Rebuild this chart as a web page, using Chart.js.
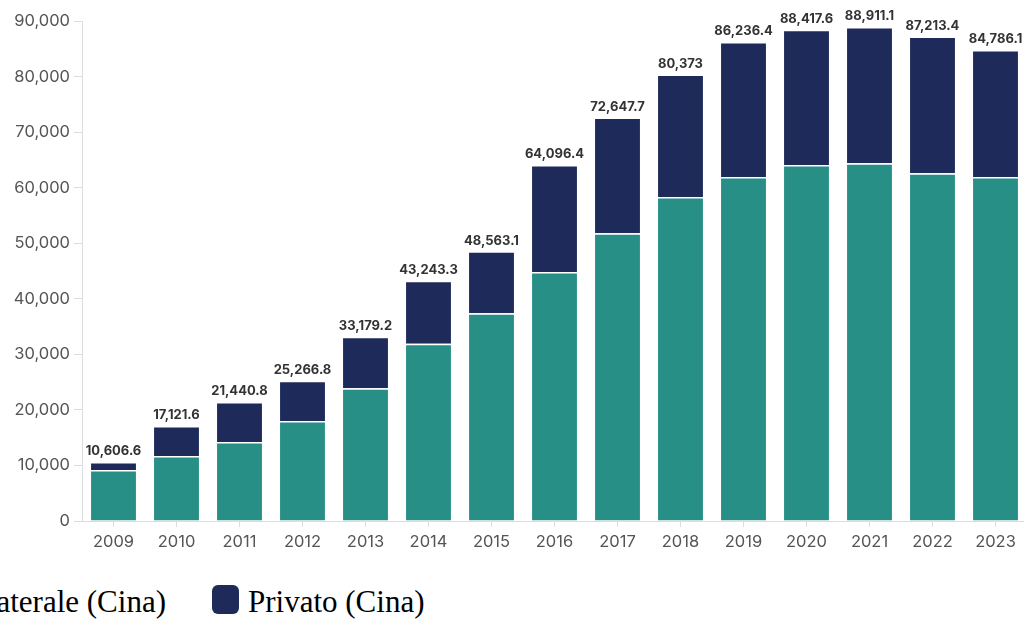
<!DOCTYPE html>
<html lang="it">
<head>
<meta charset="UTF-8">
<title>Prestiti cinesi</title>
<script src="https://cdn.jsdelivr.net/npm/chart.js"></script>
<style>
    html, body {
        margin: 0;
        padding: 0;
        background: #fff;
        overflow: hidden;
        width: 1024px;
        height: 622px;
    }
    .wrap {
        position: absolute;
        left: 0;
        top: 0;
        width: 1027px;
        height: 560px;
    }
    .legend-item {
        position: absolute;
        top: 585px;
        font-family: "Liberation Serif", "Times New Roman", serif;
        font-size: 31px;
        color: #000;
        white-space: nowrap;
        line-height: 34px;
    }
    .legend-box {
        position: absolute;
        width: 27px;
        height: 29px;
        border-radius: 6px;
        top: 585px;
    }
</style>
</head>
<body>
<div class="wrap">
    <canvas id="chart" width="1027" height="560"></canvas>
</div>

<!-- legend -->
<span class="legend-box" style="left:-40px;background:#278f86"></span>
<span class="legend-item" style="right:858px">Bilaterale (Cina)</span>
<span class="legend-box" style="left:212px;background:#1e2a5a"></span>
<span class="legend-item" style="left:248px">Privato (Cina)</span>

<script>
    const years = ['2009', '2010', '2011', '2012', '2013', '2014', '2015', '2016',
        '2017', '2018', '2019', '2020', '2021', '2022', '2023'];

    // totale per anno (etichette sopra le barre)
    const totals = [10606.6, 17121.6, 21440.8, 25266.8, 33179.2, 43243.3, 48563.1, 64096.4,
        72647.7, 80373, 86236.4, 88417.6, 88911.1, 87213.4, 84786.1];

    // quota bilaterale
    const bilaterale = [9200, 11700, 14200, 18000, 23900, 31900, 37400, 44800,
        51800, 58300, 61900, 64100, 64400, 62600, 61900];

    // quota privata = totale - bilaterale
    const privato = totals.map((t, i) => +(t - bilaterale[i]).toFixed(1));

    const yTicks = [0, 10000, 20000, 30000, 40000, 50000, 60000, 70000, 80000, 90000];

    const fmt = v => v.toLocaleString('en-US', { maximumFractionDigits: 1 });

    // totals written above each stack
    const totalLabels = {
        id: 'totalLabels',
        afterDatasetsDraw(chart) {
            const ctx = chart.ctx;
            const meta = chart.getDatasetMeta(1);
            ctx.save();
            ctx.font = 'bold 13px Inter, sans-serif';
            ctx.fillStyle = '#333';
            ctx.textAlign = 'center';
            ctx.textBaseline = 'bottom';
            meta.data.forEach((bar, i) => {
                ctx.fillText(fmt(totals[i]), bar.x, bar.y - 4);
            });
            ctx.restore();
        }
    };

    const axisColor = '#dcdcdc';

    new Chart(document.getElementById('chart').getContext('2d'), {
        type: 'bar',
        data: {
            labels: years,
            datasets: [{
                label: 'Bilaterale (Cina)',
                data: bilaterale,
                backgroundColor: '#278f86',
                borderColor: 'rgba(255,255,255,0.85)',
                borderWidth: 1.5,
                categoryPercentage: 1,
                barPercentage: 0.76
            }, {
                label: 'Privato (Cina)',
                data: privato,
                backgroundColor: '#1e2a5a',
                borderColor: 'rgba(255,255,255,0.85)',
                borderWidth: 1.5,
                categoryPercentage: 1,
                barPercentage: 0.76
            }]
        },
        options: {
            responsive: false,
            animation: false,
            layout: { padding: { top: 21, right: 0, left: 0, bottom: 0 } },
            plugins: {
                legend: { display: false },
                tooltip: { enabled: false }
            },
            scales: {
                x: {
                    stacked: true,
                    afterFit: s => { s.height = 39; },
                    grid: {
                        offset: false,
                        drawOnChartArea: false,
                        color: axisColor,
                        tickLength: 6
                    },
                    border: { color: axisColor },
                    ticks: {
                        color: '#555',
                        padding: 5,
                        font: { family: 'Inter, sans-serif', size: 16.5 }
                    }
                },
                y: {
                    stacked: true,
                    min: 0,
                    max: 90000,
                    afterFit: s => { s.width = 82; },
                    afterBuildTicks: s => { s.ticks = yTicks.map(v => ({ value: v })); },
                    grid: {
                        drawOnChartArea: false,
                        color: axisColor,
                        tickLength: 8
                    },
                    border: { color: axisColor },
                    ticks: {
                        color: '#555',
                        padding: 4,
                        font: { family: 'Inter, sans-serif', size: 16.5 },
                        callback: v => fmt(v)
                    }
                }
            }
        },
        plugins: [totalLabels]
    });
</script>
</body>
</html>
